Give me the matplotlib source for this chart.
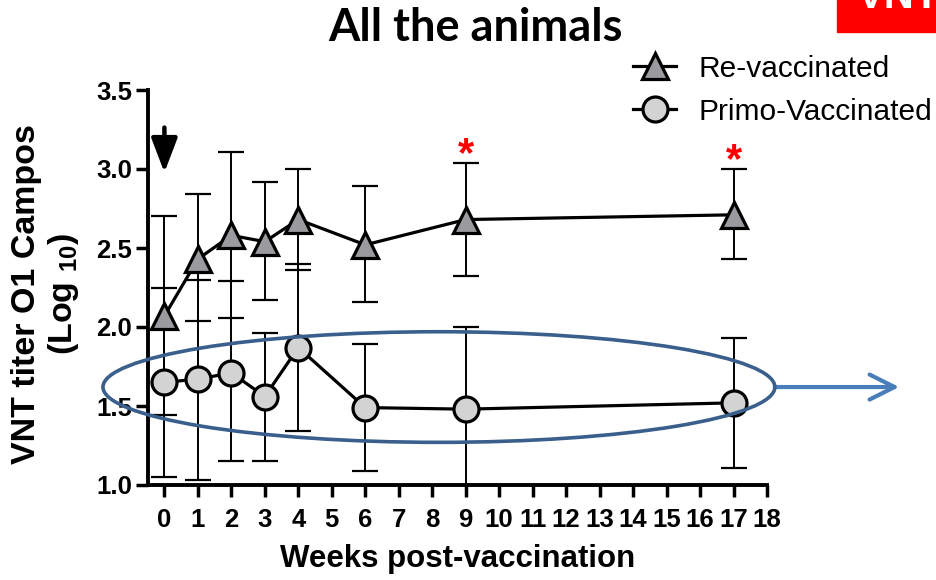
import numpy as np
import matplotlib
matplotlib.use("Agg")
import matplotlib.pyplot as plt
from matplotlib.lines import Line2D
from matplotlib.patches import Ellipse, Rectangle

# ==============================================================================
# DATA
# ==============================================================================
weeks = [0, 1, 2, 3, 4, 6, 9, 17]

re_mean = [2.07, 2.43, 2.58, 2.54, 2.68, 2.52, 2.68, 2.71]
re_top = [2.70, 2.84, 3.11, 2.92, 3.00, 2.89, 3.04, 3.00]
re_bottom = [1.44, 2.04, 2.06, 2.17, 2.36, 2.16, 2.32, 2.43]

primo_mean = [1.65, 1.67, 1.71, 1.56, 1.87, 1.49, 1.48, 1.52]
primo_top = [2.25, 2.30, 2.29, 1.96, 2.40, 1.89, 2.00, 1.93]
primo_bottom = [1.05, 1.03, 1.15, 1.15, 1.34, 1.09, 0.96, 1.11]

signif_weeks = [9, 17]
x_ticks = list(range(0, 19))
y_ticks = [1.0, 1.5, 2.0, 2.5, 3.0, 3.5]

plt.rcParams['font.family'] = ['Liberation Sans', 'DejaVu Sans']
plt.rcParams['mathtext.fontset'] = 'custom'
plt.rcParams['mathtext.rm'] = 'Liberation Sans:bold'
plt.rcParams['mathtext.bf'] = 'Liberation Sans:bold'


def yerr_from(mean, top, bottom):
    mean = np.array(mean)
    return np.vstack((mean - np.array(bottom), np.array(top) - mean))


fig = plt.figure(figsize=(9.36, 5.8), dpi=100)
ax = fig.add_axes([148/936, 1 - 485/580, (767 - 148)/936, (485 - 90)/580])

# error bars first, markers on top
for mean, top, bottom in ((primo_mean, primo_top, primo_bottom), (re_mean, re_top, re_bottom)):
    ax.errorbar(weeks, mean, yerr=yerr_from(mean, top, bottom), fmt='none',
                ecolor='black', elinewidth=1.4, capsize=9.5, capthick=1.6, zorder=2)

ax.plot(weeks, primo_mean, color='black', lw=2.3, marker='o', ms=18,
        mfc='#d3d3d3', mec='black', mew=2.3, zorder=3)
ax.plot(weeks, re_mean, color='black', lw=2.3, marker='^', ms=19,
        mfc='#9b9b9f', mec='black', mew=2.3, zorder=3)

# significance stars
for w in signif_weeks:
    i = weeks.index(w)
    ax.annotate('*', xy=(w, re_top[i]), xytext=(0, -9), textcoords='offset points',
                ha='center', va='bottom', color='red', fontsize=30, fontweight='bold',
                annotation_clip=False)

# vaccination arrow at week 0
ax.annotate('', xy=(0, 2.96), xytext=(0, 3.28),
            arrowprops=dict(arrowstyle='-|>,head_length=1.05,head_width=0.4',
                            mutation_scale=20, lw=3.2, color='black'))

# highlight ellipse round the primo-vaccinated group + arrow out of it
ell = Ellipse((8.2, 1.62), width=20.07, height=0.70, fill=False,
              edgecolor='#3a5f8c', lw=2.6, clip_on=False, zorder=5)
ax.add_patch(ell)
ax.annotate('', xy=(21.95, 1.62), xytext=(18.23, 1.62), annotation_clip=False,
            arrowprops=dict(arrowstyle='->,head_length=0.9,head_width=0.45',
                            mutation_scale=20, lw=3.0, color='#4a7ebb',
                            capstyle='round', joinstyle='round',
                            shrinkA=0, shrinkB=0))

ax.set_xlim(-0.49, 18)
ax.set_ylim(1.0, 3.5)
ax.set_xticks(x_ticks)
ax.set_yticks(y_ticks)
ax.set_yticklabels([f'{v:.1f}' for v in y_ticks])
for side in ('top', 'right'):
    ax.spines[side].set_visible(False)
for side in ('left', 'bottom'):
    ax.spines[side].set_linewidth(2.8)
ax.tick_params(axis='both', direction='out', width=2.5, length=8.5, pad=3,
               labelsize=18.5)
ax.tick_params(axis='x', pad=8)
for lbl in ax.get_xticklabels() + ax.get_yticklabels():
    lbl.set_fontweight('bold')

ax.set_xlabel('Weeks post-vaccination', fontsize=22.5, fontweight='bold', labelpad=9)
fig.text(46/936, 1 - 294/580, 'VNT titer O1 Campos\n(Log $_{10}$)', rotation=90,
         ha='center', va='center', multialignment='center', fontsize=24.5,
         fontweight='bold', linespacing=1.15)

fig.text(475/936, 1 - 28/580, 'All the animals', ha='center', va='center',
         fontsize=32.5, fontweight='bold', family=['Lato', 'DejaVu Sans'])

# legend
handles = [
    Line2D([], [], color='black', lw=2.3, marker='^', ms=19, mfc='#9b9b9f',
           mec='black', mew=2.3),
    Line2D([], [], color='black', lw=2.3, marker='o', ms=18, mfc='#d3d3d3',
           mec='black', mew=2.3),
]
fig.legend(handles, ['Re-vaccinated', 'Primo-Vaccinated'], loc='upper left',
           bbox_to_anchor=(618/936, 1 - 40/580), frameon=False, fontsize=21.5,
           handlelength=1.45, handletextpad=0.75, labelspacing=0.5, borderpad=0)

# red corner tag (cut off at the top edge)
fig.add_artist(Rectangle((837/936, 1 - 32/580), 99/936, 32/580,
                         transform=fig.transFigure, color='#ff0000', zorder=10))
fig.text(898/936, 1 - 8/580, 'VNT', ha='center', va='baseline', color='white',
         fontsize=30, fontweight='bold', zorder=11)

fig.savefig('out.png', dpi=100)
